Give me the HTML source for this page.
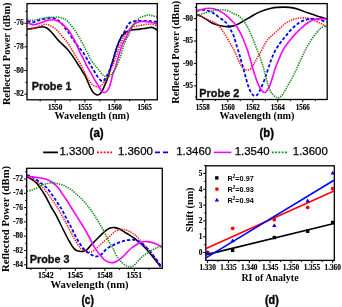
<!DOCTYPE html>
<html><head><meta charset="utf-8"><style>
html,body{margin:0;padding:0;background:#fff;width:342px;height:307px;overflow:hidden}
svg{display:block;will-change:transform}
.tl{font-family:"Liberation Serif",serif;font-weight:bold;font-size:7.6px;fill:#000;stroke:#000;stroke-width:0.15px}
.tx{font-family:"Liberation Serif",serif;font-weight:bold;font-size:8px;fill:#000;stroke:#000;stroke-width:0.2px}
.at{font-family:"Liberation Serif",serif;font-weight:bold;font-size:10.2px;fill:#000}
.pr{font-family:"Liberation Sans",sans-serif;font-weight:bold;font-size:10.8px;fill:#111;stroke:#111;stroke-width:0.35px}
.pl{font-family:"Liberation Sans",sans-serif;font-weight:bold;font-size:12.8px;fill:#000;stroke:#000;stroke-width:0.4px}
.lg{font-family:"Liberation Sans",sans-serif;font-size:11.1px;fill:#000;stroke:#000;stroke-width:0.25px}
.r2{font-family:"Liberation Sans",sans-serif;font-weight:bold;font-size:7.3px;fill:#000}
</style></head><body>
<svg width="342" height="307" viewBox="0 0 342 307">

<defs>
<clipPath id="ca"><rect x="27" y="3.6" width="130.2" height="96.2"/></clipPath>
<clipPath id="cb"><rect x="196.5" y="3.6" width="130.7" height="95.9"/></clipPath>
<clipPath id="cc"><rect x="26.7" y="168.3" width="135.6" height="100"/></clipPath>
</defs>
<g fill="none" stroke-linejoin="round" clip-path="url(#ca)"><path d="M27.30 29.30 C28.38 29.12 31.85 28.53 33.80 28.20 C35.75 27.87 37.48 27.55 39.00 27.30 C40.52 27.05 41.60 26.58 42.90 26.70 C44.20 26.82 45.48 27.20 46.80 28.00 C48.12 28.80 49.48 30.17 50.80 31.50 C52.12 32.83 53.40 34.48 54.70 36.00 C56.00 37.52 57.30 39.20 58.60 40.60 C59.90 42.00 60.97 42.87 62.50 44.40 C64.03 45.93 66.05 47.77 67.80 49.80 C69.55 51.83 71.22 54.03 73.00 56.60 C74.78 59.17 77.02 62.88 78.50 65.20 C79.98 67.52 80.78 68.70 81.90 70.50 C83.02 72.30 84.23 74.17 85.20 76.00 C86.17 77.83 86.78 79.45 87.70 81.50 C88.62 83.55 89.73 86.42 90.70 88.30 C91.67 90.18 92.53 91.72 93.50 92.80 C94.47 93.88 95.58 94.50 96.50 94.80 C97.42 95.10 98.17 95.07 99.00 94.60 C99.83 94.13 100.67 93.27 101.50 92.00 C102.33 90.73 103.08 89.00 104.00 87.00 C104.92 85.00 106.00 82.83 107.00 80.00 C108.00 77.17 109.00 73.33 110.00 70.00 C111.00 66.67 111.85 63.83 113.00 60.00 C114.15 56.17 115.60 50.67 116.90 47.00 C118.20 43.33 119.62 40.20 120.80 38.00 C121.98 35.80 122.73 34.98 124.00 33.80 C125.27 32.62 126.80 31.58 128.40 30.90 C130.00 30.22 131.65 30.00 133.60 29.70 C135.55 29.40 137.92 29.37 140.10 29.10 C142.28 28.83 144.73 28.38 146.70 28.10 C148.67 27.82 150.38 27.22 151.90 27.40 C153.42 27.58 154.95 28.77 155.80 29.20 C156.65 29.63 156.80 29.87 157.00 30.00" stroke="#000" stroke-width="1.6"/><path d="M27.30 29.30 C28.38 29.12 31.42 28.85 33.80 28.20 C36.18 27.55 39.65 26.05 41.60 25.40 C43.55 24.75 44.18 24.30 45.50 24.30 C46.82 24.30 47.97 24.75 49.50 25.40 C51.03 26.05 53.18 27.08 54.70 28.20 C56.22 29.32 57.30 30.68 58.60 32.10 C59.90 33.52 61.27 35.28 62.50 36.70 C63.73 38.12 64.90 39.22 66.00 40.60 C67.10 41.98 67.93 43.18 69.10 45.00 C70.27 46.82 71.70 49.33 73.00 51.50 C74.30 53.67 75.58 55.77 76.90 58.00 C78.22 60.23 79.75 62.77 80.90 64.90 C82.05 67.03 82.82 68.85 83.80 70.80 C84.78 72.75 85.82 74.82 86.80 76.60 C87.78 78.38 88.73 80.12 89.70 81.50 C90.67 82.88 91.62 84.08 92.60 84.90 C93.58 85.72 94.62 86.07 95.60 86.40 C96.58 86.73 97.53 87.07 98.50 86.90 C99.47 86.73 100.43 86.22 101.40 85.40 C102.37 84.58 103.20 83.57 104.30 82.00 C105.40 80.43 106.95 78.00 108.00 76.00 C109.05 74.00 109.80 71.75 110.60 70.00 C111.40 68.25 111.83 67.87 112.80 65.50 C113.77 63.13 115.25 59.05 116.40 55.80 C117.55 52.55 118.47 49.13 119.70 46.00 C120.93 42.87 122.42 39.45 123.80 37.00 C125.18 34.55 126.37 33.00 128.00 31.30 C129.63 29.60 131.58 27.77 133.60 26.80 C135.62 25.83 137.92 25.90 140.10 25.50 C142.28 25.10 144.73 24.63 146.70 24.40 C148.67 24.17 150.28 23.92 151.90 24.10 C153.52 24.28 155.65 25.27 156.40 25.50" stroke="#ff1a1a" stroke-width="1.6" stroke-dasharray="1.35 1.05"/><path d="M27.30 21.10 C28.17 21.32 30.77 22.47 32.50 22.40 C34.23 22.33 35.75 21.28 37.70 20.70 C39.65 20.12 42.02 19.38 44.20 18.90 C46.38 18.42 48.83 17.77 50.80 17.80 C52.77 17.83 54.27 18.23 56.00 19.10 C57.73 19.97 59.68 21.48 61.20 23.00 C62.72 24.52 63.98 26.78 65.10 28.20 C66.22 29.62 66.78 29.97 67.90 31.50 C69.02 33.03 70.50 35.45 71.80 37.40 C73.10 39.35 74.58 41.60 75.70 43.20 C76.82 44.80 77.20 45.37 78.50 47.00 C79.80 48.63 81.88 50.67 83.50 53.00 C85.12 55.33 86.85 58.70 88.20 61.00 C89.55 63.30 90.53 65.02 91.60 66.80 C92.67 68.58 93.62 70.07 94.60 71.70 C95.58 73.33 96.45 75.13 97.50 76.60 C98.55 78.07 99.92 79.77 100.90 80.50 C101.88 81.23 102.67 81.32 103.40 81.00 C104.13 80.68 104.63 79.60 105.30 78.60 C105.97 77.60 106.62 76.60 107.40 75.00 C108.18 73.40 109.15 71.17 110.00 69.00 C110.85 66.83 111.78 64.15 112.50 62.00 C113.22 59.85 113.35 59.05 114.30 56.10 C115.25 53.15 116.90 47.78 118.20 44.30 C119.50 40.82 121.00 37.37 122.10 35.20 C123.20 33.03 123.75 33.15 124.80 31.30 C125.85 29.45 126.93 25.77 128.40 24.10 C129.87 22.43 131.65 21.83 133.60 21.30 C135.55 20.77 137.92 20.97 140.10 20.90 C142.28 20.83 144.73 20.83 146.70 20.90 C148.67 20.97 150.18 21.15 151.90 21.30 C153.62 21.45 156.15 21.72 157.00 21.80" stroke="#0000ff" stroke-width="1.8" stroke-dasharray="3.2 2"/><path d="M27.30 23.00 C28.17 23.27 30.98 24.38 32.50 24.60 C34.02 24.82 34.88 24.67 36.40 24.30 C37.92 23.93 39.87 23.05 41.60 22.40 C43.33 21.75 45.07 20.83 46.80 20.40 C48.53 19.97 50.47 19.83 52.00 19.80 C53.53 19.77 54.68 19.77 56.00 20.20 C57.32 20.63 58.60 21.53 59.90 22.40 C61.20 23.27 62.47 24.22 63.80 25.40 C65.13 26.58 66.57 27.83 67.90 29.50 C69.23 31.17 70.50 33.22 71.80 35.40 C73.10 37.58 74.42 39.92 75.70 42.60 C76.98 45.28 78.23 48.85 79.50 51.50 C80.77 54.15 82.08 56.10 83.30 58.50 C84.52 60.90 85.57 63.53 86.80 65.90 C88.03 68.27 89.40 70.42 90.70 72.70 C92.00 74.98 93.47 77.65 94.60 79.60 C95.73 81.55 96.47 82.67 97.50 84.40 C98.53 86.13 99.72 88.65 100.80 90.00 C101.88 91.35 103.05 92.25 104.00 92.50 C104.95 92.75 105.67 92.25 106.50 91.50 C107.33 90.75 108.25 89.67 109.00 88.00 C109.75 86.33 110.37 83.75 111.00 81.50 C111.63 79.25 111.98 77.13 112.80 74.50 C113.62 71.87 114.92 68.82 115.90 65.70 C116.88 62.58 117.73 59.08 118.70 55.80 C119.67 52.52 120.77 48.58 121.70 46.00 C122.63 43.42 123.48 41.92 124.30 40.30 C125.12 38.68 125.73 38.10 126.60 36.30 C127.47 34.50 128.12 31.63 129.50 29.50 C130.88 27.37 132.90 24.83 134.90 23.50 C136.90 22.17 139.32 21.78 141.50 21.50 C143.68 21.22 146.05 21.58 148.00 21.80 C149.95 22.02 151.70 22.42 153.20 22.80 C154.70 23.18 156.37 23.88 157.00 24.10" stroke="#ff00ff" stroke-width="1.6"/><path d="M27.30 19.40 C28.17 19.57 30.55 20.45 32.50 20.40 C34.45 20.35 36.62 19.57 39.00 19.10 C41.38 18.63 44.18 17.92 46.80 17.60 C49.42 17.28 52.30 17.17 54.70 17.20 C57.10 17.23 59.57 17.50 61.20 17.80 C62.83 18.10 63.38 18.35 64.50 19.00 C65.62 19.65 66.68 20.48 67.90 21.70 C69.12 22.92 70.50 24.67 71.80 26.30 C73.10 27.93 74.40 29.55 75.70 31.50 C77.00 33.45 78.30 35.72 79.60 38.00 C80.90 40.28 82.20 42.73 83.50 45.20 C84.80 47.67 86.10 50.23 87.40 52.80 C88.70 55.37 89.93 58.42 91.30 60.60 C92.67 62.78 94.23 64.20 95.60 65.90 C96.97 67.60 98.20 69.22 99.50 70.80 C100.80 72.38 102.08 74.38 103.40 75.40 C104.72 76.42 106.22 76.92 107.40 76.90 C108.58 76.88 109.47 76.22 110.50 75.30 C111.53 74.38 112.55 72.97 113.60 71.40 C114.65 69.83 115.62 68.50 116.80 65.90 C117.98 63.30 119.57 59.12 120.70 55.80 C121.83 52.48 122.68 48.72 123.60 46.00 C124.52 43.28 125.38 41.28 126.20 39.50 C127.02 37.72 127.58 37.25 128.50 35.30 C129.42 33.35 130.78 29.68 131.70 27.80 C132.62 25.92 133.18 25.17 134.00 24.00 C134.82 22.83 135.35 21.98 136.60 20.80 C137.85 19.62 139.87 17.80 141.50 16.90 C143.13 16.00 145.10 15.72 146.40 15.40 C147.70 15.08 147.95 14.85 149.30 15.00 C150.65 15.15 153.22 15.97 154.50 16.30 C155.78 16.63 156.58 16.88 157.00 17.00" stroke="#1a8a1a" stroke-width="1.6" stroke-dasharray="1.35 1.05"/></g>
<rect x="27.00" y="3.60" width="130.30" height="96.20" fill="none" stroke="#000" stroke-width="1.3"/>
<g stroke="#000" stroke-width="1"><line x1="55.10" y1="99.80" x2="55.10" y2="102.40"/><line x1="84.93" y1="99.80" x2="84.93" y2="102.40"/><line x1="114.77" y1="99.80" x2="114.77" y2="102.40"/><line x1="144.60" y1="99.80" x2="144.60" y2="102.40"/><line x1="40.18" y1="99.80" x2="40.18" y2="101.40"/><line x1="70.02" y1="99.80" x2="70.02" y2="101.40"/><line x1="99.85" y1="99.80" x2="99.85" y2="101.40"/><line x1="129.68" y1="99.80" x2="129.68" y2="101.40"/><line x1="27.00" y1="23.20" x2="24.40" y2="23.20"/><line x1="27.00" y1="46.87" x2="24.40" y2="46.87"/><line x1="27.00" y1="70.53" x2="24.40" y2="70.53"/><line x1="27.00" y1="94.20" x2="24.40" y2="94.20"/><line x1="27.00" y1="11.37" x2="25.40" y2="11.37"/><line x1="27.00" y1="35.03" x2="25.40" y2="35.03"/><line x1="27.00" y1="58.70" x2="25.40" y2="58.70"/><line x1="27.00" y1="82.37" x2="25.40" y2="82.37"/></g>
<text class="tx" x="55.10" y="109.7" text-anchor="middle" textLength="14.4" lengthAdjust="spacingAndGlyphs">1550</text>
<text class="tx" x="84.93" y="109.7" text-anchor="middle" textLength="14.4" lengthAdjust="spacingAndGlyphs">1555</text>
<text class="tx" x="114.77" y="109.7" text-anchor="middle" textLength="14.4" lengthAdjust="spacingAndGlyphs">1560</text>
<text class="tx" x="144.60" y="109.7" text-anchor="middle" textLength="14.4" lengthAdjust="spacingAndGlyphs">1565</text>
<text class="tl" x="23.8" y="25.30" text-anchor="end" textLength="10" lengthAdjust="spacingAndGlyphs">-76</text>
<text class="tl" x="23.8" y="48.97" text-anchor="end" textLength="10" lengthAdjust="spacingAndGlyphs">-78</text>
<text class="tl" x="23.8" y="72.63" text-anchor="end" textLength="10" lengthAdjust="spacingAndGlyphs">-80</text>
<text class="tl" x="23.8" y="96.30" text-anchor="end" textLength="10" lengthAdjust="spacingAndGlyphs">-82</text>
<text class="at" x="92" y="118.8" text-anchor="middle">Wavelength (nm)</text>
<text class="at" transform="translate(10.1,53.8) rotate(-90)" text-anchor="middle" style="font-size:10.35px">Reflected Power (dBm)</text>
<text class="pr" x="31.8" y="90.4" textLength="39.6" lengthAdjust="spacingAndGlyphs">Probe 1</text>
<text class="pl" x="89.6" y="137" textLength="14.1" lengthAdjust="spacingAndGlyphs">(a)</text>
<g fill="none" stroke-linejoin="round" clip-path="url(#cb)"><path d="M196.70 14.40 C197.45 14.73 199.58 15.57 201.20 16.40 C202.82 17.23 204.67 18.33 206.40 19.40 C208.13 20.47 209.87 21.90 211.60 22.80 C213.33 23.70 215.05 24.27 216.80 24.80 C218.55 25.33 220.35 25.70 222.10 26.00 C223.85 26.30 225.57 26.58 227.30 26.60 C229.03 26.62 231.05 26.37 232.50 26.10 C233.95 25.83 234.83 25.45 236.00 25.00 C237.17 24.55 238.33 24.02 239.50 23.40 C240.67 22.78 241.23 22.33 243.00 21.30 C244.77 20.27 247.75 18.57 250.10 17.20 C252.45 15.83 254.77 14.27 257.10 13.10 C259.43 11.93 261.75 11.00 264.10 10.20 C266.45 9.40 269.05 8.77 271.20 8.30 C273.35 7.83 274.78 7.60 277.00 7.40 C279.22 7.20 281.83 7.02 284.50 7.10 C287.17 7.18 290.18 7.35 293.00 7.90 C295.82 8.45 298.58 9.45 301.40 10.40 C304.22 11.35 307.07 12.60 309.90 13.60 C312.73 14.60 315.58 15.50 318.40 16.40 C321.22 17.30 325.40 18.57 326.80 19.00" stroke="#000" stroke-width="1.6"/><path d="M196.70 14.40 C197.45 14.72 199.37 15.43 201.20 16.30 C203.03 17.17 205.43 18.52 207.70 19.60 C209.97 20.68 212.93 21.73 214.80 22.80 C216.67 23.87 217.72 24.82 218.90 26.00 C220.08 27.18 220.75 28.28 221.90 29.90 C223.05 31.52 224.50 33.58 225.80 35.70 C227.10 37.82 228.40 40.32 229.70 42.60 C231.00 44.88 232.47 47.25 233.60 49.40 C234.73 51.55 235.55 53.40 236.50 55.50 C237.45 57.60 238.23 59.92 239.30 62.00 C240.37 64.08 241.65 66.67 242.90 68.00 C244.15 69.33 245.48 69.90 246.80 70.00 C248.12 70.10 249.48 69.87 250.80 68.60 C252.12 67.33 253.40 64.58 254.70 62.40 C256.00 60.22 257.38 57.63 258.60 55.50 C259.82 53.37 260.88 51.65 262.00 49.60 C263.12 47.55 264.22 45.05 265.30 43.20 C266.38 41.35 267.38 39.78 268.50 38.50 C269.62 37.22 270.75 36.58 272.00 35.50 C273.25 34.42 274.67 33.22 276.00 32.00 C277.33 30.78 278.52 29.57 280.00 28.20 C281.48 26.83 283.27 25.02 284.90 23.80 C286.53 22.58 288.17 21.70 289.80 20.90 C291.43 20.10 293.07 19.47 294.70 19.00 C296.33 18.53 297.98 18.28 299.60 18.10 C301.22 17.92 302.78 17.83 304.40 17.90 C306.02 17.97 307.25 17.90 309.30 18.50 C311.35 19.10 314.62 20.58 316.70 21.50 C318.78 22.42 320.12 23.02 321.80 24.00 C323.48 24.98 325.97 26.83 326.80 27.40" stroke="#ff1a1a" stroke-width="1.6" stroke-dasharray="1.35 1.05"/><path d="M196.70 10.90 C197.67 10.72 200.45 9.77 202.50 9.80 C204.55 9.83 207.05 10.45 209.00 11.10 C210.95 11.75 212.45 12.62 214.20 13.70 C215.95 14.78 217.75 16.30 219.50 17.60 C221.25 18.90 223.33 20.35 224.70 21.50 C226.07 22.65 226.70 23.10 227.70 24.50 C228.70 25.90 229.72 28.03 230.70 29.90 C231.68 31.77 232.72 33.42 233.60 35.70 C234.48 37.98 235.18 40.98 236.00 43.60 C236.82 46.22 237.75 48.92 238.50 51.40 C239.25 53.88 239.82 56.07 240.50 58.50 C241.18 60.93 241.92 63.58 242.60 66.00 C243.28 68.42 243.93 70.58 244.60 73.00 C245.27 75.42 245.85 77.92 246.60 80.50 C247.35 83.08 248.15 86.22 249.10 88.50 C250.05 90.78 251.32 92.95 252.30 94.20 C253.28 95.45 254.10 95.98 255.00 96.00 C255.90 96.02 256.73 95.55 257.70 94.30 C258.67 93.05 259.72 90.80 260.80 88.50 C261.88 86.20 263.23 83.00 264.20 80.50 C265.17 78.00 265.72 76.12 266.60 73.50 C267.48 70.88 268.72 67.13 269.50 64.80 C270.28 62.47 270.68 61.15 271.30 59.50 C271.92 57.85 272.45 56.53 273.20 54.90 C273.95 53.27 274.88 51.33 275.80 49.70 C276.72 48.07 277.67 46.62 278.70 45.10 C279.73 43.58 280.85 42.07 282.00 40.60 C283.15 39.13 284.30 37.87 285.60 36.30 C286.90 34.73 288.28 32.88 289.80 31.20 C291.32 29.52 293.07 27.63 294.70 26.20 C296.33 24.77 297.98 23.58 299.60 22.60 C301.22 21.62 302.78 20.88 304.40 20.30 C306.02 19.72 307.37 19.32 309.30 19.10 C311.23 18.88 314.00 18.82 316.00 19.00 C318.00 19.18 319.50 19.63 321.30 20.20 C323.10 20.77 325.88 22.03 326.80 22.40" stroke="#0000ff" stroke-width="1.8" stroke-dasharray="3.2 2"/><path d="M196.70 11.10 C197.67 10.78 200.45 9.67 202.50 9.20 C204.55 8.73 206.83 8.30 209.00 8.30 C211.17 8.30 213.32 8.52 215.50 9.20 C217.68 9.88 220.13 11.22 222.10 12.40 C224.07 13.58 225.57 14.78 227.30 16.30 C229.03 17.82 231.22 20.22 232.50 21.50 C233.78 22.78 233.78 22.28 235.00 24.00 C236.22 25.72 238.45 29.35 239.80 31.80 C241.15 34.25 242.13 36.47 243.10 38.70 C244.07 40.93 244.85 43.22 245.60 45.20 C246.35 47.18 247.10 49.13 247.60 50.60 C248.10 52.07 248.10 52.35 248.60 54.00 C249.10 55.65 249.90 58.08 250.60 60.50 C251.30 62.92 251.98 65.75 252.80 68.50 C253.62 71.25 254.58 74.33 255.50 77.00 C256.42 79.67 257.35 82.37 258.30 84.50 C259.25 86.63 260.28 88.48 261.20 89.80 C262.12 91.12 262.93 92.12 263.80 92.40 C264.67 92.68 265.55 92.33 266.40 91.50 C267.25 90.67 268.10 89.07 268.90 87.40 C269.70 85.73 270.45 83.65 271.20 81.50 C271.95 79.35 272.68 76.78 273.40 74.50 C274.12 72.22 274.68 70.08 275.50 67.80 C276.32 65.52 277.33 63.17 278.30 60.80 C279.27 58.43 280.37 55.63 281.30 53.60 C282.23 51.57 283.07 50.03 283.90 48.60 C284.73 47.17 285.32 46.37 286.30 45.00 C287.28 43.63 288.40 42.13 289.80 40.40 C291.20 38.67 293.07 36.38 294.70 34.60 C296.33 32.82 297.98 31.25 299.60 29.70 C301.22 28.15 302.78 26.60 304.40 25.30 C306.02 24.00 307.95 22.77 309.30 21.90 C310.65 21.03 311.38 20.57 312.50 20.10 C313.62 19.63 314.45 19.32 316.00 19.10 C317.55 18.88 320.00 18.82 321.80 18.80 C323.60 18.78 325.97 18.97 326.80 19.00" stroke="#ff00ff" stroke-width="1.6"/><path d="M196.70 15.70 C197.67 15.37 200.45 14.35 202.50 13.70 C204.55 13.05 206.83 12.40 209.00 11.80 C211.17 11.20 213.32 10.43 215.50 10.10 C217.68 9.77 219.92 9.63 222.10 9.80 C224.28 9.97 226.65 10.45 228.60 11.10 C230.55 11.75 232.03 12.83 233.80 13.70 C235.57 14.57 237.65 15.22 239.20 16.30 C240.75 17.38 241.80 18.57 243.10 20.20 C244.40 21.83 245.92 24.25 247.00 26.10 C248.08 27.95 248.73 29.45 249.60 31.30 C250.47 33.15 251.38 35.25 252.20 37.20 C253.02 39.15 253.65 40.80 254.50 43.00 C255.35 45.20 256.40 48.08 257.30 50.40 C258.20 52.72 259.03 54.50 259.90 56.90 C260.77 59.30 261.63 61.97 262.50 64.80 C263.37 67.63 264.25 70.78 265.10 73.90 C265.95 77.02 266.68 80.60 267.60 83.50 C268.52 86.40 269.55 89.25 270.60 91.30 C271.65 93.35 272.82 94.75 273.90 95.80 C274.98 96.85 276.08 97.38 277.10 97.60 C278.12 97.82 279.02 97.70 280.00 97.10 C280.98 96.50 281.83 95.68 283.00 94.00 C284.17 92.32 285.40 89.82 287.00 87.00 C288.60 84.18 291.12 79.83 292.60 77.10 C294.08 74.37 294.75 73.03 295.90 70.60 C297.05 68.17 298.28 65.18 299.50 62.50 C300.72 59.82 301.92 57.17 303.20 54.50 C304.48 51.83 305.82 49.00 307.20 46.50 C308.58 44.00 309.92 41.83 311.50 39.50 C313.08 37.17 315.12 34.42 316.70 32.50 C318.28 30.58 319.32 29.17 321.00 28.00 C322.68 26.83 325.83 25.92 326.80 25.50" stroke="#1a8a1a" stroke-width="1.6" stroke-dasharray="1.35 1.05"/></g>
<rect x="196.50" y="3.60" width="130.70" height="95.90" fill="none" stroke="#000" stroke-width="1.3"/>
<g stroke="#000" stroke-width="1"><line x1="202.80" y1="99.50" x2="202.80" y2="102.10"/><line x1="227.80" y1="99.50" x2="227.80" y2="102.10"/><line x1="252.80" y1="99.50" x2="252.80" y2="102.10"/><line x1="277.80" y1="99.50" x2="277.80" y2="102.10"/><line x1="302.80" y1="99.50" x2="302.80" y2="102.10"/><line x1="215.30" y1="99.50" x2="215.30" y2="101.10"/><line x1="240.30" y1="99.50" x2="240.30" y2="101.10"/><line x1="265.30" y1="99.50" x2="265.30" y2="101.10"/><line x1="290.30" y1="99.50" x2="290.30" y2="101.10"/><line x1="315.30" y1="99.50" x2="315.30" y2="101.10"/><line x1="196.50" y1="18.60" x2="193.90" y2="18.60"/><line x1="196.50" y1="41.00" x2="193.90" y2="41.00"/><line x1="196.50" y1="63.40" x2="193.90" y2="63.40"/><line x1="196.50" y1="85.80" x2="193.90" y2="85.80"/><line x1="196.50" y1="7.40" x2="194.90" y2="7.40"/><line x1="196.50" y1="29.80" x2="194.90" y2="29.80"/><line x1="196.50" y1="52.20" x2="194.90" y2="52.20"/><line x1="196.50" y1="74.60" x2="194.90" y2="74.60"/><line x1="196.50" y1="97.00" x2="194.90" y2="97.00"/></g>
<text class="tx" x="202.80" y="109.5" text-anchor="middle" textLength="14" lengthAdjust="spacingAndGlyphs">1558</text>
<text class="tx" x="227.80" y="109.5" text-anchor="middle" textLength="14" lengthAdjust="spacingAndGlyphs">1560</text>
<text class="tx" x="252.80" y="109.5" text-anchor="middle" textLength="14" lengthAdjust="spacingAndGlyphs">1562</text>
<text class="tx" x="277.80" y="109.5" text-anchor="middle" textLength="14" lengthAdjust="spacingAndGlyphs">1564</text>
<text class="tx" x="302.80" y="109.5" text-anchor="middle" textLength="14" lengthAdjust="spacingAndGlyphs">1566</text>
<text class="tl" x="193.1" y="20.70" text-anchor="end" textLength="10" lengthAdjust="spacingAndGlyphs">-80</text>
<text class="tl" x="193.1" y="43.10" text-anchor="end" textLength="10" lengthAdjust="spacingAndGlyphs">-85</text>
<text class="tl" x="193.1" y="65.50" text-anchor="end" textLength="10" lengthAdjust="spacingAndGlyphs">-90</text>
<text class="tl" x="193.1" y="87.90" text-anchor="end" textLength="10" lengthAdjust="spacingAndGlyphs">-95</text>
<text class="at" x="257" y="118.9" text-anchor="middle">Wavelength (nm)</text>
<text class="at" transform="translate(179.2,52.3) rotate(-90)" text-anchor="middle" style="font-size:10.4px">Reflected Power (dBm)</text>
<text class="pr" x="199.3" y="96.9" textLength="40" lengthAdjust="spacingAndGlyphs">Probe 2</text>
<text class="pl" x="259.6" y="137" textLength="14.3" lengthAdjust="spacingAndGlyphs">(b)</text>
<g fill="none">
<line x1="43.2" y1="152.4" x2="57.9" y2="152.4" stroke="#000" stroke-width="1.8"/>
<line x1="97.1" y1="152.4" x2="112.3" y2="152.4" stroke="#ff0000" stroke-width="1.9" stroke-dasharray="1.8 1.5"/>
<line x1="155" y1="152.4" x2="168" y2="152.4" stroke="#0000ff" stroke-width="1.9" stroke-dasharray="5 3"/>
<line x1="213.7" y1="152.4" x2="231.3" y2="152.4" stroke="#ff00ff" stroke-width="1.6"/>
<line x1="271.9" y1="152.4" x2="287.1" y2="152.4" stroke="#118811" stroke-width="1.9" stroke-dasharray="1.8 1.5"/>
</g>
<text class="lg" x="59.4" y="155" textLength="35" lengthAdjust="spacingAndGlyphs">1.3300</text>
<text class="lg" x="117.9" y="155" textLength="35" lengthAdjust="spacingAndGlyphs">1.3600</text>
<text class="lg" x="176.2" y="155" textLength="35" lengthAdjust="spacingAndGlyphs">1.3460</text>
<text class="lg" x="234.7" y="155" textLength="35" lengthAdjust="spacingAndGlyphs">1.3540</text>
<text class="lg" x="292.8" y="155" textLength="35" lengthAdjust="spacingAndGlyphs">1.3600</text>
<g fill="none" stroke-linejoin="round" clip-path="url(#cc)"><path d="M26.90 176.40 C27.62 176.83 29.62 177.92 31.20 179.00 C32.78 180.08 34.88 181.38 36.40 182.90 C37.92 184.42 39.00 186.25 40.30 188.10 C41.60 189.95 43.00 192.03 44.20 194.00 C45.40 195.97 46.33 197.73 47.50 199.90 C48.67 202.07 49.78 204.47 51.20 207.00 C52.62 209.53 54.33 212.02 56.00 215.10 C57.67 218.18 59.47 222.02 61.20 225.50 C62.93 228.98 64.93 233.17 66.40 236.00 C67.87 238.83 68.98 240.75 70.00 242.50 C71.02 244.25 71.57 245.25 72.50 246.50 C73.43 247.75 74.43 249.20 75.60 250.00 C76.77 250.80 78.18 251.08 79.50 251.30 C80.82 251.52 82.18 251.63 83.50 251.30 C84.82 250.97 86.10 250.38 87.40 249.30 C88.70 248.22 90.00 246.22 91.30 244.80 C92.60 243.38 93.90 242.13 95.20 240.80 C96.50 239.47 97.58 238.30 99.10 236.80 C100.62 235.30 102.57 233.23 104.30 231.80 C106.03 230.37 107.75 228.90 109.50 228.20 C111.25 227.50 113.05 227.42 114.80 227.60 C116.55 227.78 118.27 228.48 120.00 229.30 C121.73 230.12 123.67 231.58 125.20 232.50 C126.73 233.42 127.67 233.82 129.20 234.80 C130.73 235.78 132.67 237.15 134.40 238.40 C136.13 239.65 137.87 240.78 139.60 242.30 C141.33 243.82 143.05 245.65 144.80 247.50 C146.55 249.35 148.35 251.33 150.10 253.40 C151.85 255.47 153.78 257.95 155.30 259.90 C156.82 261.85 158.33 263.92 159.20 265.10 C160.07 266.28 160.28 266.68 160.50 267.00" stroke="#000" stroke-width="1.6"/><path d="M26.90 175.80 C27.83 176.33 30.70 177.92 32.50 179.00 C34.30 180.08 35.97 180.88 37.70 182.30 C39.43 183.72 41.43 185.90 42.90 187.50 C44.37 189.10 45.35 190.40 46.50 191.90 C47.65 193.40 48.72 194.98 49.80 196.50 C50.88 198.02 51.82 199.33 53.00 201.00 C54.18 202.67 55.68 204.57 56.90 206.50 C58.12 208.43 59.27 210.72 60.30 212.60 C61.33 214.48 62.20 216.18 63.10 217.80 C64.00 219.42 64.88 220.78 65.70 222.30 C66.52 223.82 67.20 225.37 68.00 226.90 C68.80 228.43 69.53 229.72 70.50 231.50 C71.47 233.28 72.68 235.58 73.80 237.60 C74.92 239.62 75.97 241.70 77.20 243.60 C78.43 245.50 79.82 247.67 81.20 249.00 C82.58 250.33 84.12 251.07 85.50 251.60 C86.88 252.13 88.18 252.33 89.50 252.20 C90.82 252.07 91.88 251.78 93.40 250.80 C94.92 249.82 96.65 248.03 98.60 246.30 C100.55 244.57 103.23 242.07 105.10 240.40 C106.97 238.73 108.07 237.83 109.80 236.30 C111.53 234.77 113.45 232.37 115.50 231.20 C117.55 230.03 119.92 229.33 122.10 229.30 C124.28 229.27 126.42 230.05 128.60 231.00 C130.78 231.95 133.17 233.28 135.20 235.00 C137.23 236.72 139.03 239.38 140.80 241.30 C142.57 243.22 144.10 244.72 145.80 246.50 C147.50 248.28 149.50 250.20 151.00 252.00 C152.50 253.80 153.65 255.55 154.80 257.30 C155.95 259.05 157.07 261.10 157.90 262.50 C158.73 263.90 159.32 264.95 159.80 265.70 C160.28 266.45 160.63 266.78 160.80 267.00" stroke="#ff1a1a" stroke-width="1.6" stroke-dasharray="1.35 1.05"/><path d="M26.90 175.10 C27.62 175.32 29.62 175.63 31.20 176.40 C32.78 177.17 34.67 178.50 36.40 179.70 C38.13 180.90 39.97 182.33 41.60 183.60 C43.23 184.87 44.95 186.13 46.20 187.30 C47.45 188.47 48.07 189.28 49.10 190.60 C50.13 191.92 51.42 193.78 52.40 195.20 C53.38 196.62 54.13 197.80 55.00 199.10 C55.87 200.40 56.73 201.68 57.60 203.00 C58.47 204.32 59.38 205.70 60.20 207.00 C61.02 208.30 61.68 209.33 62.50 210.80 C63.32 212.27 64.23 214.10 65.10 215.80 C65.97 217.50 66.78 219.27 67.70 221.00 C68.62 222.73 69.65 224.40 70.60 226.20 C71.55 228.00 72.43 229.87 73.40 231.80 C74.37 233.73 75.25 235.72 76.40 237.80 C77.55 239.88 79.00 242.35 80.30 244.30 C81.60 246.25 82.67 247.95 84.20 249.50 C85.73 251.05 87.75 252.48 89.50 253.60 C91.25 254.72 93.18 255.80 94.70 256.20 C96.22 256.60 97.30 256.48 98.60 256.00 C99.90 255.52 101.20 254.47 102.50 253.30 C103.80 252.13 104.88 250.25 106.40 249.00 C107.92 247.75 109.87 246.73 111.60 245.80 C113.33 244.87 115.05 244.12 116.80 243.40 C118.55 242.68 120.35 242.03 122.10 241.50 C123.85 240.97 125.57 240.50 127.30 240.20 C129.03 239.90 131.10 239.68 132.50 239.70 C133.90 239.72 134.30 239.77 135.70 240.30 C137.10 240.83 139.17 241.70 140.90 242.90 C142.63 244.10 144.35 245.75 146.10 247.50 C147.85 249.25 149.65 251.33 151.40 253.40 C153.15 255.47 155.20 258.07 156.60 259.90 C158.00 261.73 159.07 263.30 159.80 264.40 C160.53 265.50 160.80 266.15 161.00 266.50" stroke="#0000ff" stroke-width="1.8" stroke-dasharray="3.2 2"/><path d="M26.90 176.30 C27.92 176.42 30.98 176.75 33.00 177.00 C35.02 177.25 36.92 177.47 39.00 177.80 C41.08 178.13 43.32 178.25 45.50 179.00 C47.68 179.75 50.35 181.22 52.10 182.30 C53.85 183.38 54.77 184.30 56.00 185.50 C57.23 186.70 58.42 188.05 59.50 189.50 C60.58 190.95 61.42 192.62 62.50 194.20 C63.58 195.78 64.70 197.03 66.00 199.00 C67.30 200.97 69.05 203.97 70.30 206.00 C71.55 208.03 72.42 209.47 73.50 211.20 C74.58 212.93 75.70 214.67 76.80 216.40 C77.90 218.13 79.00 219.87 80.10 221.60 C81.20 223.33 82.42 225.18 83.40 226.80 C84.38 228.42 85.13 229.77 86.00 231.30 C86.87 232.83 87.83 234.58 88.60 236.00 C89.37 237.42 89.95 238.50 90.60 239.80 C91.25 241.10 91.70 242.33 92.50 243.80 C93.30 245.27 94.17 246.77 95.40 248.60 C96.63 250.43 98.50 253.02 99.90 254.80 C101.30 256.58 102.28 258.05 103.80 259.30 C105.32 260.55 107.48 261.75 109.00 262.30 C110.52 262.85 111.60 262.77 112.90 262.60 C114.20 262.43 115.27 262.17 116.80 261.30 C118.33 260.43 120.35 258.93 122.10 257.40 C123.85 255.87 125.73 253.67 127.30 252.10 C128.87 250.53 130.05 249.18 131.50 248.00 C132.95 246.82 134.43 245.95 136.00 245.00 C137.57 244.05 138.98 242.87 140.90 242.30 C142.82 241.73 145.32 241.50 147.50 241.60 C149.68 241.70 152.05 242.25 154.00 242.90 C155.95 243.55 157.90 244.73 159.20 245.50 C160.50 246.27 161.37 247.17 161.80 247.50" stroke="#ff00ff" stroke-width="1.6"/><path d="M26.90 191.20 C27.62 191.03 29.62 190.68 31.20 190.20 C32.78 189.72 34.67 189.08 36.40 188.30 C38.13 187.52 39.87 186.28 41.60 185.50 C43.33 184.72 45.05 184.03 46.80 183.60 C48.55 183.17 50.35 182.90 52.10 182.90 C53.85 182.90 55.57 183.25 57.30 183.60 C59.03 183.95 61.05 184.52 62.50 185.00 C63.95 185.48 64.55 185.72 66.00 186.50 C67.45 187.28 69.47 188.42 71.20 189.70 C72.93 190.98 74.67 192.68 76.40 194.20 C78.13 195.72 79.87 197.05 81.60 198.80 C83.33 200.55 85.05 202.53 86.80 204.70 C88.55 206.87 90.70 209.83 92.10 211.80 C93.50 213.77 94.03 214.63 95.20 216.50 C96.37 218.37 97.80 220.83 99.10 223.00 C100.40 225.17 101.80 227.32 103.00 229.50 C104.20 231.68 105.22 233.92 106.30 236.10 C107.38 238.28 108.40 240.58 109.50 242.60 C110.60 244.62 111.68 245.95 112.90 248.20 C114.12 250.45 115.27 253.70 116.80 256.10 C118.33 258.50 120.35 260.90 122.10 262.60 C123.85 264.30 125.78 265.63 127.30 266.30 C128.82 266.97 129.90 266.93 131.20 266.60 C132.50 266.27 133.38 265.85 135.10 264.30 C136.82 262.75 139.35 259.22 141.50 257.30 C143.65 255.38 145.82 254.22 148.00 252.80 C150.18 251.38 152.27 250.05 154.60 248.80 C156.93 247.55 160.77 245.88 162.00 245.30" stroke="#1a8a1a" stroke-width="1.6" stroke-dasharray="1.35 1.05"/></g>
<rect x="26.70" y="168.30" width="135.60" height="100.00" fill="none" stroke="#000" stroke-width="1.3"/>
<g stroke="#000" stroke-width="1"><line x1="45.80" y1="268.30" x2="45.80" y2="270.90"/><line x1="75.30" y1="268.30" x2="75.30" y2="270.90"/><line x1="104.80" y1="268.30" x2="104.80" y2="270.90"/><line x1="134.30" y1="268.30" x2="134.30" y2="270.90"/><line x1="31.05" y1="268.30" x2="31.05" y2="269.90"/><line x1="60.55" y1="268.30" x2="60.55" y2="269.90"/><line x1="90.05" y1="268.30" x2="90.05" y2="269.90"/><line x1="119.55" y1="268.30" x2="119.55" y2="269.90"/><line x1="149.05" y1="268.30" x2="149.05" y2="269.90"/><line x1="26.70" y1="179.00" x2="24.10" y2="179.00"/><line x1="26.70" y1="193.30" x2="24.10" y2="193.30"/><line x1="26.70" y1="207.60" x2="24.10" y2="207.60"/><line x1="26.70" y1="221.90" x2="24.10" y2="221.90"/><line x1="26.70" y1="236.20" x2="24.10" y2="236.20"/><line x1="26.70" y1="250.50" x2="24.10" y2="250.50"/><line x1="26.70" y1="264.80" x2="24.10" y2="264.80"/><line x1="26.70" y1="171.85" x2="25.10" y2="171.85"/><line x1="26.70" y1="186.15" x2="25.10" y2="186.15"/><line x1="26.70" y1="200.45" x2="25.10" y2="200.45"/><line x1="26.70" y1="214.75" x2="25.10" y2="214.75"/><line x1="26.70" y1="229.05" x2="25.10" y2="229.05"/><line x1="26.70" y1="243.35" x2="25.10" y2="243.35"/><line x1="26.70" y1="257.65" x2="25.10" y2="257.65"/></g>
<text class="tx" x="45.80" y="277.8" text-anchor="middle" textLength="15.4" lengthAdjust="spacingAndGlyphs">1542</text>
<text class="tx" x="75.30" y="277.8" text-anchor="middle" textLength="15.4" lengthAdjust="spacingAndGlyphs">1545</text>
<text class="tx" x="104.80" y="277.8" text-anchor="middle" textLength="15.4" lengthAdjust="spacingAndGlyphs">1548</text>
<text class="tx" x="134.30" y="277.8" text-anchor="middle" textLength="15.4" lengthAdjust="spacingAndGlyphs">1551</text>
<text class="tl" x="23" y="181.10" text-anchor="end" textLength="10" lengthAdjust="spacingAndGlyphs">-72</text>
<text class="tl" x="23" y="195.40" text-anchor="end" textLength="10" lengthAdjust="spacingAndGlyphs">-74</text>
<text class="tl" x="23" y="209.70" text-anchor="end" textLength="10" lengthAdjust="spacingAndGlyphs">-76</text>
<text class="tl" x="23" y="224.00" text-anchor="end" textLength="10" lengthAdjust="spacingAndGlyphs">-78</text>
<text class="tl" x="23" y="238.30" text-anchor="end" textLength="10" lengthAdjust="spacingAndGlyphs">-80</text>
<text class="tl" x="23" y="252.60" text-anchor="end" textLength="10" lengthAdjust="spacingAndGlyphs">-82</text>
<text class="tl" x="23" y="266.90" text-anchor="end" textLength="10" lengthAdjust="spacingAndGlyphs">-84</text>
<text class="at" x="89.6" y="288" text-anchor="middle" textLength="78" lengthAdjust="spacingAndGlyphs">Wavelength (nm)</text>
<text class="at" transform="translate(9.2,218.9) rotate(-90)" text-anchor="middle" style="font-size:10.7px">Reflected Power (dBm)</text>
<text class="pr" x="29.8" y="262.9" textLength="39.6" lengthAdjust="spacingAndGlyphs">Probe 3</text>
<text class="pl" x="81.4" y="303.8" textLength="12.6" lengthAdjust="spacingAndGlyphs">(c)</text>
<rect x="205.80" y="165.80" width="128.50" height="94.60" fill="none" stroke="#000" stroke-width="1.3"/>
<g stroke="#000" stroke-width="1"><line x1="207.60" y1="260.40" x2="207.60" y2="263.00"/><line x1="228.45" y1="260.40" x2="228.45" y2="263.00"/><line x1="249.30" y1="260.40" x2="249.30" y2="263.00"/><line x1="270.15" y1="260.40" x2="270.15" y2="263.00"/><line x1="291.00" y1="260.40" x2="291.00" y2="263.00"/><line x1="311.85" y1="260.40" x2="311.85" y2="263.00"/><line x1="332.70" y1="260.40" x2="332.70" y2="263.00"/><line x1="218.02" y1="260.40" x2="218.02" y2="262.00"/><line x1="238.87" y1="260.40" x2="238.87" y2="262.00"/><line x1="259.72" y1="260.40" x2="259.72" y2="262.00"/><line x1="280.57" y1="260.40" x2="280.57" y2="262.00"/><line x1="301.42" y1="260.40" x2="301.42" y2="262.00"/><line x1="322.27" y1="260.40" x2="322.27" y2="262.00"/><line x1="205.80" y1="252.60" x2="203.20" y2="252.60"/><line x1="205.80" y1="236.76" x2="203.20" y2="236.76"/><line x1="205.80" y1="220.92" x2="203.20" y2="220.92"/><line x1="205.80" y1="205.08" x2="203.20" y2="205.08"/><line x1="205.80" y1="189.24" x2="203.20" y2="189.24"/><line x1="205.80" y1="173.40" x2="203.20" y2="173.40"/><line x1="205.80" y1="244.68" x2="204.20" y2="244.68"/><line x1="205.80" y1="228.84" x2="204.20" y2="228.84"/><line x1="205.80" y1="213.00" x2="204.20" y2="213.00"/><line x1="205.80" y1="197.16" x2="204.20" y2="197.16"/><line x1="205.80" y1="181.32" x2="204.20" y2="181.32"/><line x1="205.80" y1="165.48" x2="204.20" y2="165.48"/></g>
<text class="tl" x="207.60" y="270" text-anchor="middle" style="font-size:7.3px">1.330</text>
<text class="tl" x="228.45" y="270" text-anchor="middle" style="font-size:7.3px">1.335</text>
<text class="tl" x="249.30" y="270" text-anchor="middle" style="font-size:7.3px">1.340</text>
<text class="tl" x="270.15" y="270" text-anchor="middle" style="font-size:7.3px">1.345</text>
<text class="tl" x="291.00" y="270" text-anchor="middle" style="font-size:7.3px">1.350</text>
<text class="tl" x="311.85" y="270" text-anchor="middle" style="font-size:7.3px">1.355</text>
<text class="tl" x="332.70" y="270" text-anchor="middle" style="font-size:7.3px">1.360</text>
<text class="tl" x="202.4" y="255.10" text-anchor="end" style="font-size:7.3px">0</text>
<text class="tl" x="202.4" y="239.26" text-anchor="end" style="font-size:7.3px">1</text>
<text class="tl" x="202.4" y="223.42" text-anchor="end" style="font-size:7.3px">2</text>
<text class="tl" x="202.4" y="207.58" text-anchor="end" style="font-size:7.3px">3</text>
<text class="tl" x="202.4" y="191.74" text-anchor="end" style="font-size:7.3px">4</text>
<text class="tl" x="202.4" y="175.90" text-anchor="end" style="font-size:7.3px">5</text>
<text class="at" x="270" y="280.7" text-anchor="middle" style="font-size:10px">RI of Analyte</text>
<text class="at" transform="translate(193.3,209.7) rotate(-90)" text-anchor="middle" style="font-size:10.2px">Shift (nm)</text>
<text class="pl" x="265" y="303.8" textLength="13.8" lengthAdjust="spacingAndGlyphs">(d)</text>
<defs><clipPath id="cd"><rect x="205.8" y="165.8" width="128.5" height="94.6"/></clipPath></defs>
<g clip-path="url(#cd)">
<line x1="205.51" y1="254.87" x2="333.95" y2="223.44" stroke="#000" stroke-width="1.6"/>
<line x1="205.51" y1="248.74" x2="333.95" y2="191.05" stroke="#ff0000" stroke-width="1.6"/>
<line x1="205.51" y1="258.13" x2="333.95" y2="180.28" stroke="#0000ff" stroke-width="1.6"/>
<rect x="205.90" y="250.90" width="3.4" height="3.4" fill="#000"/>
<rect x="230.92" y="248.68" width="3.4" height="3.4" fill="#000"/>
<rect x="272.62" y="235.85" width="3.4" height="3.4" fill="#000"/>
<rect x="305.98" y="229.52" width="3.4" height="3.4" fill="#000"/>
<rect x="331.00" y="220.80" width="3.4" height="3.4" fill="#000"/>
<circle cx="207.60" cy="252.60" r="1.85" fill="#ff0000"/>
<circle cx="232.62" cy="228.36" r="1.85" fill="#ff0000"/>
<circle cx="274.32" cy="219.65" r="1.85" fill="#ff0000"/>
<circle cx="307.68" cy="207.46" r="1.85" fill="#ff0000"/>
<circle cx="332.70" cy="188.61" r="1.85" fill="#ff0000"/>
<path d="M207.60 250.40L209.80 254.20L205.40 254.20Z" fill="#0000ff"/>
<path d="M232.62 238.52L234.82 242.32L230.42 242.32Z" fill="#0000ff"/>
<path d="M274.32 223.16L276.52 226.96L272.12 226.96Z" fill="#0000ff"/>
<path d="M307.68 198.44L309.88 202.24L305.48 202.24Z" fill="#0000ff"/>
<path d="M332.70 170.72L334.90 174.52L330.50 174.52Z" fill="#0000ff"/>
</g>
<rect x="215.10" y="176.20" width="3.4" height="3.4" fill="#000"/>
<circle cx="216.90" cy="189.10" r="1.85" fill="#ff0000"/>
<path d="M216.90 197.80L219.10 201.60L214.70 201.60Z" fill="#0000ff"/>
<text class="r2" x="227.5" y="180.6">R<tspan dy="-2.6" style="font-size:4.6px">2</tspan><tspan dy="2.6">=0.97</tspan></text>
<text class="r2" x="227.5" y="191.8">R<tspan dy="-2.6" style="font-size:4.6px">2</tspan><tspan dy="2.6">=0.93</tspan></text>
<text class="r2" x="227.5" y="202.9">R<tspan dy="-2.6" style="font-size:4.6px">2</tspan><tspan dy="2.6">=0.94</tspan></text>
</svg></body></html>
